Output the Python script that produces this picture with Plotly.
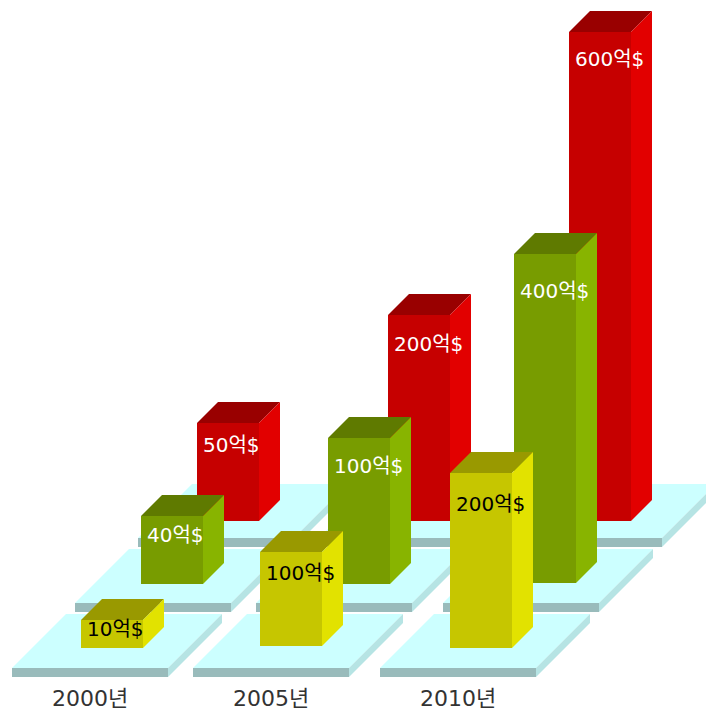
import numpy as np
import plotly.graph_objects as go

# Values, in 억$
years = ["2000년", "2005년", "2010년"]
front_row_values = [10, 100, 200]
middle_row_values = [40, 100, 400]
back_row_values = [50, 200, 600]

# Bar height scale of each row (the drawing is not linear in value): value -> height
front_scale = ([10, 100, 200], [28, 94, 175])
middle_scale = ([40, 100, 400], [68, 146, 329])
back_scale = ([50, 200, 600], [98, 206, 489])

# Oblique projection of the scene
year_left = [12, 193, 380]
ROW_SHIFT_X, ROW_RISE_Y = 63, 65
PLATE_W, PLATE_THICK, PLATE_DEPTH = 156, 9, 54
PLATE_FRONT_Y = 668
BAR_W, BAR_DEPTH, BAR_SLOT = 62, 21, 68
bar_floor_y = [648, 584, 521]
slot_nudge = [[1, -1, 2], [-2, 4, 3], [-9, 1, -5]]
floor_nudge = [[0, -2, 0], [0, 0, -1], [0, 0, 0]]
label_drop = [[11, 23, 33], [21, 30, 39], [24, 31, 29]]

PLATE_COLORS = dict(top="#CCFFFF", front="#99BBBB", side="#B6E4E4")
rows = [
    dict(values=front_row_values, scale=front_scale, text="#000000",
         front="#C6C600", side="#E2E200", top="#999900"),
    dict(values=middle_row_values, scale=middle_scale, text="#FFFFFF",
         front="#789C00", side="#88B400", top="#5F7A00"),
    dict(values=back_row_values, scale=back_scale, text="#FFFFFF",
         front="#C60000", side="#E20000", top="#990000"),
]

fig = go.Figure()


def face(points, color):
    xs, ys = zip(*points)
    fig.add_trace(go.Scatter(
        x=list(xs) + [xs[0]], y=list(ys) + [ys[0]], mode="lines", fill="toself",
        fillcolor=color, line=dict(width=0, color=color),
        hoverinfo="skip", showlegend=False,
    ))


# Floor plates, furthest row first
for r in (2, 1, 0):
    for left0 in year_left:
        x0 = left0 + r * ROW_SHIFT_X
        x1 = x0 + PLATE_W
        y0 = PLATE_FRONT_Y - r * ROW_RISE_Y
        face([(x0, y0), (x1, y0), (x1 + PLATE_DEPTH, y0 - PLATE_DEPTH),
              (x0 + PLATE_DEPTH, y0 - PLATE_DEPTH)], PLATE_COLORS["top"])
        face([(x1, y0), (x1 + PLATE_DEPTH, y0 - PLATE_DEPTH),
              (x1 + PLATE_DEPTH, y0 - PLATE_DEPTH + PLATE_THICK), (x1, y0 + PLATE_THICK)],
             PLATE_COLORS["side"])
        face([(x0, y0), (x1, y0), (x1, y0 + PLATE_THICK), (x0, y0 + PLATE_THICK)],
             PLATE_COLORS["front"])

# Bars, furthest row first, each with its value label on the front face
for r in (2, 1, 0):
    row = rows[r]
    heights = np.interp(row["values"], row["scale"][0], row["scale"][1])
    for i, (value, h) in enumerate(zip(row["values"], heights)):
        x0 = year_left[i] + r * ROW_SHIFT_X + BAR_SLOT + slot_nudge[r][i]
        x1 = x0 + BAR_W
        y0 = bar_floor_y[r] + floor_nudge[r][i]
        y1 = y0 - h
        face([(x0, y1), (x1, y1), (x1 + BAR_DEPTH, y1 - BAR_DEPTH),
              (x0 + BAR_DEPTH, y1 - BAR_DEPTH)], row["top"])
        face([(x1, y0), (x1 + BAR_DEPTH, y0 - BAR_DEPTH),
              (x1 + BAR_DEPTH, y1 - BAR_DEPTH), (x1, y1)], row["side"])
        face([(x0, y0), (x1, y0), (x1, y1), (x0, y1)], row["front"])
        fig.add_trace(go.Scatter(
            x=[x0 + 6], y=[y1 + label_drop[r][i]], mode="text",
            text=[f"{value}억$"], textposition="middle right",
            textfont=dict(family="DejaVu Sans, Noto Sans CJK KR", size=20, color=row["text"]),
            hoverinfo="skip", showlegend=False, cliponaxis=False,
        ))

fig.update_layout(
    width=706, height=710, margin=dict(l=0, r=0, t=0, b=0),
    paper_bgcolor="white", plot_bgcolor="white", showlegend=False,
    xaxis=dict(
        range=[0, 706], tickmode="array",
        tickvals=[x + PLATE_W / 2 for x in year_left], ticktext=years,
        ticklabelposition="inside", ticks="", showgrid=False, zeroline=False,
        showline=False, fixedrange=True, ticklabelstandoff=-3,
        tickfont=dict(family="DejaVu Sans, Noto Sans CJK KR", size=22, color="#333333"),
    ),
    yaxis=dict(range=[710, 0], visible=False, fixedrange=True),
)

fig.write_html("out.html", config=dict(displayModeBar=False))
